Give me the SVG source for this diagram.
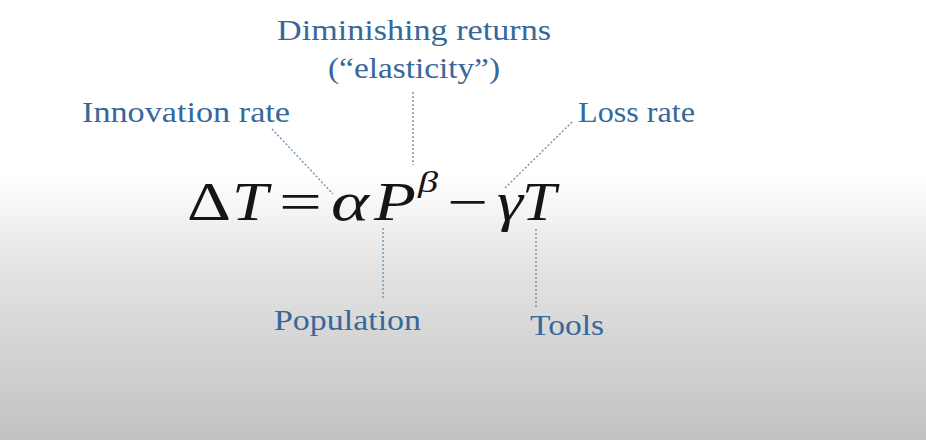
<svg xmlns="http://www.w3.org/2000/svg" width="926" height="440" viewBox="0 0 926 440">
<defs>
<linearGradient id="bg" x1="0" y1="0" x2="0" y2="440" gradientUnits="userSpaceOnUse">
<stop offset="0" stop-color="#ffffff"/>
<stop offset="0.40" stop-color="#ffffff"/>
<stop offset="0.6" stop-color="#e4e4e4"/>
<stop offset="1" stop-color="#c2c2c2"/>
</linearGradient>
<style>
.lbl{font-family:"Liberation Serif","Times New Roman",serif;font-size:29px;fill:#36689a}
.eq{font-family:"Liberation Serif","Times New Roman",serif;font-size:54px;fill:#151515}
.it{font-style:italic}
.con{stroke:#6f93b5;stroke-width:1.4;stroke-dasharray:2 2;fill:none}
</style>
</defs>
<rect width="926" height="440" fill="url(#bg)"/>
<g id="connectors">
<line class="con" x1="272" y1="129" x2="333" y2="194"/>
<line class="con" x1="413" y1="92" x2="413" y2="165"/>
<line class="con" x1="572" y1="122" x2="505" y2="188"/>
<line class="con" x1="383" y1="228" x2="383" y2="300"/>
<line class="con" x1="536" y1="229" x2="536" y2="308"/>
</g>
<g id="equation">
<text class="eq" x="187" y="220" textLength="44" lengthAdjust="spacingAndGlyphs">Δ</text>
<text class="eq it" x="232" y="220" textLength="36" lengthAdjust="spacingAndGlyphs">T</text>
<text class="eq" x="279" y="220" textLength="43" lengthAdjust="spacingAndGlyphs">=</text>
<text class="eq it" x="331" y="220" textLength="38" lengthAdjust="spacingAndGlyphs">α</text>
<text class="eq it" x="374" y="220" textLength="42" lengthAdjust="spacingAndGlyphs">P</text>
<text class="eq it" x="418" y="192" style="font-size:30px" textLength="20" lengthAdjust="spacingAndGlyphs">β</text>
<text class="eq" x="447" y="220" textLength="41" lengthAdjust="spacingAndGlyphs">−</text>
<text class="eq it" x="497" y="220" textLength="26" lengthAdjust="spacingAndGlyphs">γ</text>
<text class="eq it" x="522" y="220" textLength="34" lengthAdjust="spacingAndGlyphs">T</text>
</g>
<g id="diminishing">
<text class="lbl" x="277" y="40" textLength="274" lengthAdjust="spacingAndGlyphs">Diminishing returns</text>
<text class="lbl" x="328" y="78" textLength="172" lengthAdjust="spacingAndGlyphs">(“elasticity”)</text>
</g>
<g id="innovation"><text class="lbl" x="82" y="122" textLength="208" lengthAdjust="spacingAndGlyphs">Innovation rate</text></g>
<g id="loss"><text class="lbl" x="578" y="122" textLength="117" lengthAdjust="spacingAndGlyphs">Loss rate</text></g>
<g id="population"><text class="lbl" x="274" y="330" textLength="147" lengthAdjust="spacingAndGlyphs">Population</text></g>
<g id="tools"><text class="lbl" x="530" y="335" textLength="74" lengthAdjust="spacingAndGlyphs">Tools</text></g>
</svg>
